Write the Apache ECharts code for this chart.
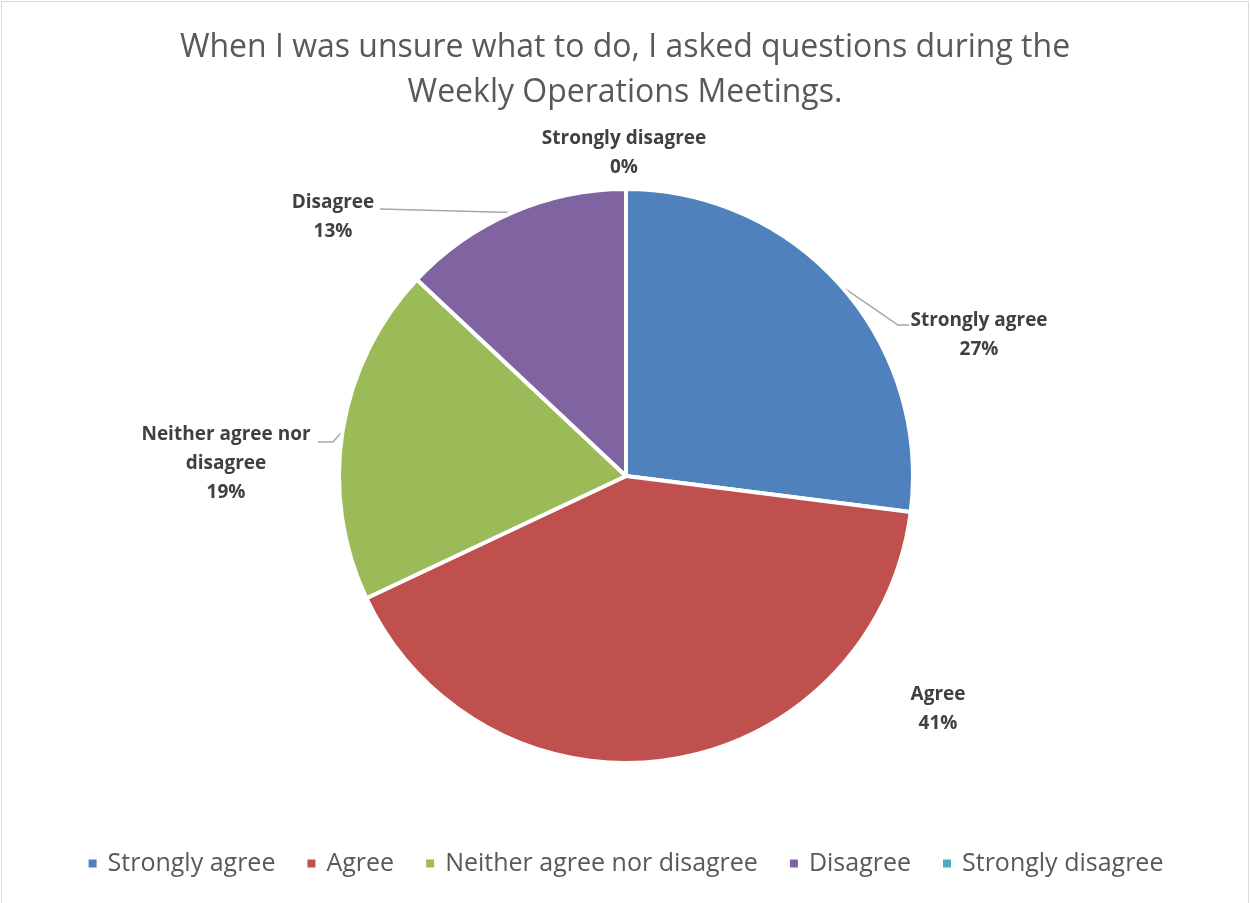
<!DOCTYPE html>
<html>
<head>
<meta charset="utf-8">
<script src="https://cdn.jsdelivr.net/npm/echarts@6/dist/echarts.min.js"></script>
<style>
html,body{margin:0;padding:0;background:#fff;}
#chart{width:1250px;height:903px;}
</style>
</head>
<body>
<div id="chart"></div>
<script>
const titleText = 'When I was unsure what to do, I asked questions during the\nWeekly Operations Meetings.';
const categories = ['Strongly agree', 'Agree', 'Neither agree nor disagree', 'Disagree', 'Strongly disagree'];
const values = [27, 41, 19, 13, 0];
const colors = ['#4F81BD', '#C0504D', '#9BBB59', '#8064A2', '#4BACC6'];
const labelNames = ['Strongly agree', 'Agree', 'Neither agree nor\ndisagree', 'Disagree', 'Strongly disagree'];

// label placement (centre of label block) and leader-line elbow, in pixels
const labelPlace = [
  {x: 979, y: 335, line: [[898, 325], [909, 325]]},
  {x: 938, y: 709, line: null},
  {x: 226, y: 464, line: [[333, 442], [318, 442]]},
  {x: 333, y: 217, line: [[380, 209]]},
  {x: 624, y: 153, line: null}
];

const FONT = 'Open Sans';
const chart = echarts.init(document.getElementById('chart'));
chart.setOption({
  backgroundColor: '#fff',
  animation: false,
  title: {
    text: titleText,
    left: 'center',
    top: 20,
    textStyle: {fontFamily: FONT, fontSize: 32, fontWeight: 'normal', color: '#595959', lineHeight: 45}
  },
  legend: {
    bottom: 22,
    left: 'center',
    icon: 'rect',
    itemWidth: 10,
    itemHeight: 10,
    itemGap: 30,
    textStyle: {fontFamily: FONT, fontSize: 25, color: '#595959', padding: [0, 0, 0, 5]},
    data: categories
  },
  graphic: [{
    type: 'rect', shape: {x: 1.5, y: 1.5, width: 1247, height: 905},
    style: {fill: 'none', stroke: '#d9d9d9', lineWidth: 1}, silent: true
  }],
  series: [{
    type: 'pie',
    center: [626, 476],
    radius: 287,
    startAngle: 90,
    clockwise: true,
    stillShowZeroSum: true,
    avoidLabelOverlap: false,
    itemStyle: {borderColor: '#fff', borderWidth: 4},
    label: {
      show: true,
      position: 'outside',
      fontFamily: FONT,
      fontSize: 19,
      fontWeight: 'bold',
      color: '#404040',
      lineHeight: 29,
      align: 'center',
      formatter: p => labelNames[p.dataIndex] + '\n' + Math.round(p.percent) + '%'
    },
    labelLine: {show: true, lineStyle: {color: '#A6A6A6', width: 1.5}, length: 10, length2: 10},
    labelLayout: function (p) {
      const L = labelPlace[p.dataIndex];
      const out = {x: L.x, y: L.y, align: 'center', verticalAlign: 'middle'};
      if (L.line && p.labelLinePoints) {
        out.labelLinePoints = [p.labelLinePoints[0]].concat(L.line);
      }
      return out;
    },
    data: categories.map((c, i) => ({
      name: c,
      value: values[i],
      itemStyle: {color: colors[i]},
      labelLine: {show: !!labelPlace[i].line}
    }))
  }]
});
</script>
</body>
</html>
